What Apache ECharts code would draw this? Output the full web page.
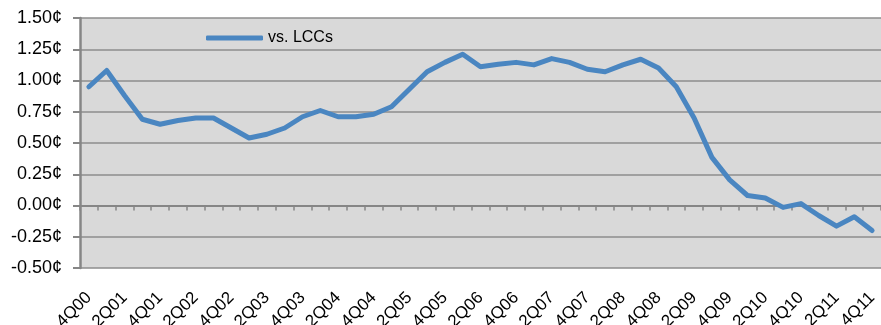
<!DOCTYPE html>
<html>
<head>
<meta charset="utf-8">
<script src="https://cdn.jsdelivr.net/npm/echarts@6/dist/echarts.min.js"></script>
<style>
  html, body { margin: 0; padding: 0; background: #fff; }
  #chart { width: 881px; height: 325px; }
</style>
</head>
<body>
<div id="chart"></div>
<script>
// Quarterly categories, 4Q00 through 4Q11
const quarters = [
  '4Q00',
  '1Q01', '2Q01', '3Q01', '4Q01',
  '1Q02', '2Q02', '3Q02', '4Q02',
  '1Q03', '2Q03', '3Q03', '4Q03',
  '1Q04', '2Q04', '3Q04', '4Q04',
  '1Q05', '2Q05', '3Q05', '4Q05',
  '1Q06', '2Q06', '3Q06', '4Q06',
  '1Q07', '2Q07', '3Q07', '4Q07',
  '1Q08', '2Q08', '3Q08', '4Q08',
  '1Q09', '2Q09', '3Q09', '4Q09',
  '1Q10', '2Q10', '3Q10', '4Q10',
  '1Q11', '2Q11', '3Q11', '4Q11'
];

// Cost gap vs. LCCs, cents
const vsLCCs = [
  0.95,
  1.08, 0.88, 0.69, 0.65,
  0.68, 0.70, 0.70, 0.62,
  0.54, 0.57, 0.62, 0.71,
  0.76, 0.71, 0.71, 0.73,
  0.79, 0.93, 1.07, 1.145,
  1.21, 1.11, 1.13, 1.145,
  1.125, 1.175, 1.145, 1.09,
  1.07, 1.125, 1.17, 1.10,
  0.95, 0.70, 0.385, 0.205,
  0.08, 0.06, -0.015, 0.015,
  -0.08, -0.165, -0.09, -0.20
];

const seriesName = 'vs. LCCs';
const yTicks = { min: -0.5, max: 1.5, step: 0.25 };

const font = "'Liberation Sans', Arial, sans-serif";
const axisGray = '#868686';

const chart = echarts.init(document.getElementById('chart'), null, { renderer: 'canvas' });

chart.setOption({
  animation: false,
  backgroundColor: '#ffffff',
  grid: {
    left: 80, right: 0, top: 18, bottom: 57,
    containLabel: false,
    outerBoundsMode: 'none',
    show: true, backgroundColor: '#d9d9d9', borderWidth: 0
  },
  legend: {
    left: 201, top: 25,
    itemWidth: 57, itemHeight: 5, itemGap: 5,
    icon: 'roundRect',
    textStyle: { fontFamily: font, fontSize: 16, color: '#000' },
    data: [seriesName]
  },
  xAxis: [
    {
      // axis line and ticks crossing at zero
      type: 'category',
      data: quarters,
      boundaryGap: true,
      axisLine: { show: true, onZero: true, lineStyle: { color: axisGray, width: 2 } },
      axisTick: { show: true, inside: false, length: 5, interval: 0, lineStyle: { color: axisGray, width: 1.5 } },
      axisLabel: { show: false },
      splitLine: { show: false }
    },
    {
      // rotated quarter labels along the bottom
      type: 'category',
      data: quarters,
      position: 'bottom',
      boundaryGap: true,
      axisLine: { show: false, onZero: false },
      axisTick: { show: false },
      axisLabel: {
        show: true, interval: 1, rotate: 45, margin: 27,
        fontFamily: font, fontSize: 17, color: '#000'
      },
      splitLine: { show: false }
    }
  ],
  yAxis: {
    type: 'value',
    min: yTicks.min, max: yTicks.max, interval: yTicks.step,
    axisLine: { show: true, lineStyle: { color: axisGray, width: 2.5 } },
    axisTick: { show: true, inside: false, length: 7, lineStyle: { color: axisGray, width: 2 } },
    axisLabel: {
      margin: 18,
      fontFamily: font, fontSize: 18, color: '#000',
      formatter: v => v.toFixed(2) + '\u00a2'
    },
    splitLine: { show: true, lineStyle: { color: '#8c8c8c', width: 1.5 } }
  },
  series: [
    {
      name: seriesName,
      type: 'line',
      xAxisIndex: 0,
      data: vsLCCs,
      showSymbol: false,
      symbol: 'none',
      color: '#4a86c1',
      lineStyle: { color: '#4a86c1', width: 5, cap: 'round', join: 'round' },
      z: 5
    }
  ]
});
</script>
</body>
</html>
